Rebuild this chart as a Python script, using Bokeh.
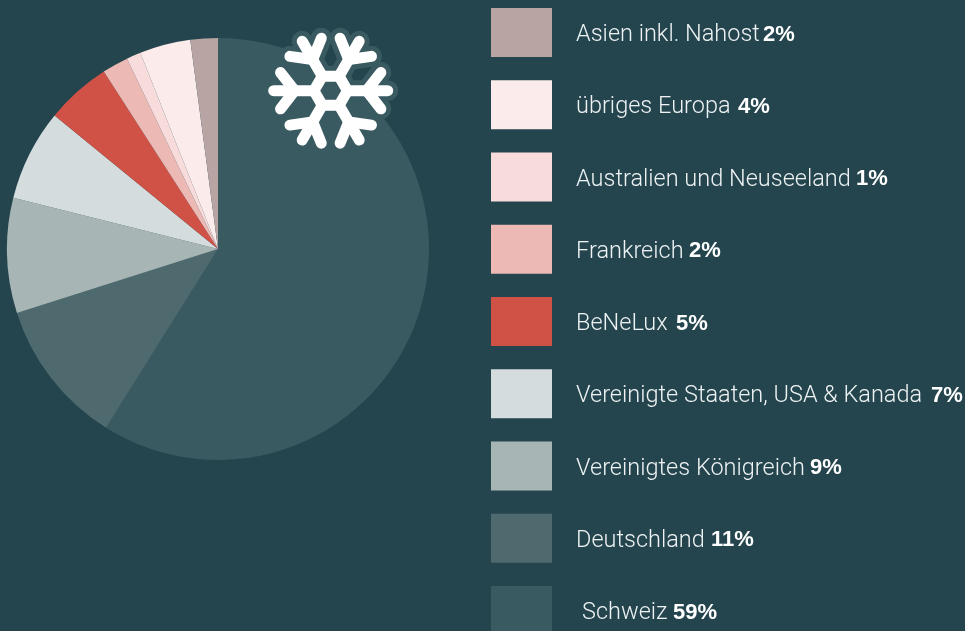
import math
from bokeh.embed import file_html
from bokeh.resources import INLINE
from bokeh.plotting import figure
from bokeh.models import Range1d, ColumnDataSource
from bokeh.core.properties import value

W, H = 965, 631
BG = "#24454e"

categories = ["Schweiz", "Deutschland", "Vereinigtes Königreich", "Vereinigte Staaten, USA & Kanada",
              "BeNeLux", "Frankreich", "Australien und Neuseeland", "übriges Europa", "Asien inkl. Nahost"]
shares = [58.9, 11.2, 8.8, 7.0, 5.0, 2.0, 1.1, 3.9, 2.1]
colors = ["#3a5a61", "#4f6a6f", "#a7b5b5", "#d4dcde", "#d05246", "#edb9b5", "#f8dcdc", "#fbeceb", "#b7a4a3"]

# legend order, top to bottom
legend_order = [8, 7, 6, 5, 4, 3, 2, 1, 0]
legend_names = ["Asien inkl. Nahost", "übriges Europa", "Australien und Neuseeland", "Frankreich", "BeNeLux",
                "Vereinigte Staaten, USA & Kanada", "Vereinigtes Königreich", "Deutschland", " Schweiz"]
name_x = [576, 576, 576, 576, 576, 576, 576, 576, 582]
pct_x = [763, 738, 856, 689, 676, 931, 810, 711, 673]

PAD = 2
p = figure(width=W + 2 * PAD, height=H + 2 * PAD, output_backend="svg", toolbar_location=None,
           x_range=Range1d(-PAD + 0.5, W + PAD + 0.5), y_range=Range1d(-PAD - 0.5, H + PAD - 0.5), min_border=0,
           x_axis_location=None, y_axis_location=None,
           background_fill_color=BG, border_fill_color=BG, outline_line_color=None,
           styles={"position": "fixed", "left": f"-{PAD}px", "top": f"-{PAD}px"})
p.grid.visible = False

Y = lambda v: H - v

# pie
cx, cy, R = 218, Y(249), 211
total = sum(shares)
starts, ends, acc = [], [], 0
for s in shares:
    starts.append(math.pi / 2 - 2 * math.pi * acc / total)
    acc += s
    ends.append(math.pi / 2 - 2 * math.pi * acc / total)
pie = ColumnDataSource(dict(start=starts, end=ends, color=colors))
p.wedge(x=cx, y=cy, radius=R, start_angle="start", end_angle="end", direction="clock",
        fill_color="color", line_color=None, source=pie)

# snowflake
fx, fy = 330.7, Y(90.7)
arm, branch_at, branch_len, hex_r = 57, 36, 23, 16.8
xs, ys = [], []
hx, hy = [], []
for k in range(6):
    a = math.radians(60 * k)
    ux, uy = math.cos(a), math.sin(a)
    xs.append([fx + hex_r * ux, fx + arm * ux])
    ys.append([fy + hex_r * uy, fy + arm * uy])
    bx, by = fx + branch_at * ux, fy + branch_at * uy
    for d in (-52, 52):
        b = a + math.radians(d)
        xs.append([bx, bx + branch_len * math.cos(b)])
        ys.append([by, by + branch_len * math.sin(b)])
    hx.append(fx + hex_r * ux)
    hy.append(fy + hex_r * uy)
xs.append(hx + hx[:1])
ys.append(hy + hy[:1])
p.multi_line(xs, ys, line_color=colors[0], line_width=21, line_cap="round", line_join="round")
p.multi_line(xs, ys, line_color="#ffffff", line_width=11, line_cap="round", line_join="round")

# legend
tops = [8 + 72.25 * i for i in range(len(legend_order))]
leg = ColumnDataSource(dict(
    left=[491] * 9, right=[552] * 9,
    top=[Y(t) for t in tops], bottom=[Y(t + 49) for t in tops],
    color=[colors[i] for i in legend_order],
    name=legend_names, name_x=name_x,
    pct=[f"{round(shares[i])}%" for i in legend_order], pct_x=pct_x,
    ty=[Y(t + 25) for t in tops],
))
p.quad(left="left", right="right", top="top", bottom="bottom", fill_color="color", line_color=None, source=leg)
p.text(x="name_x", y="ty", text="name", text_font=value("Roboto Light"), text_font_size="23.5px",
       text_color="#eef2f3", text_baseline="middle", source=leg)
p.text(x="pct_x", y="ty", text="pct", text_font=value("Liberation Sans"), text_font_style="bold",
       text_font_size="22px", text_color="#ffffff", text_baseline="middle", source=leg)

open("out.html", "w").write(file_html(p, INLINE))
